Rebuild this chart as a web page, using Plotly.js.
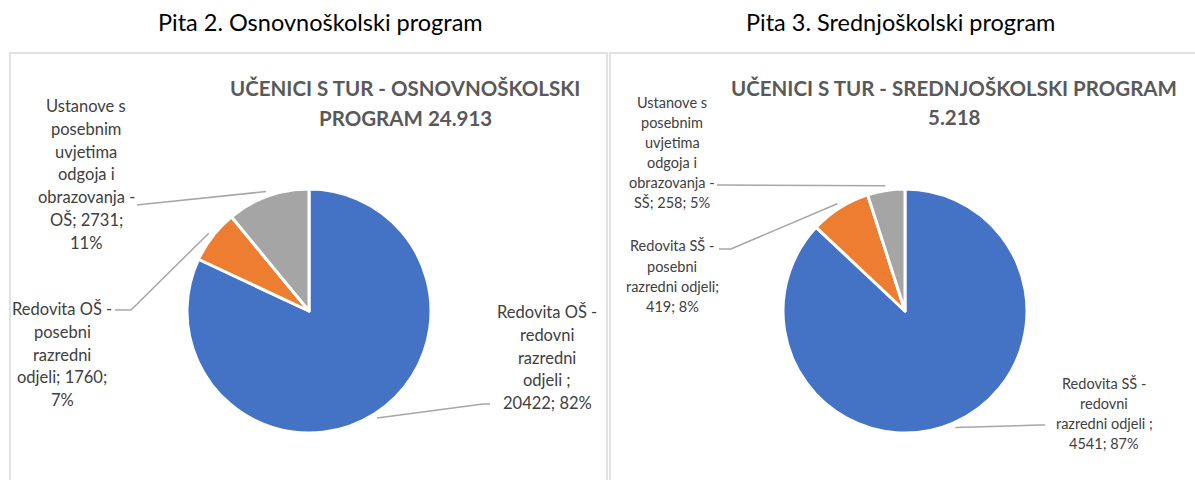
<!DOCTYPE html>
<html>
<head>
<meta charset="utf-8">
<script src="https://cdn.plot.ly/plotly-3.0.1.min.js"></script>
<style>html,body{margin:0;padding:0;background:#fff;}#chart{width:1195px;height:480px;}</style>
</head>
<body>
<div id="chart"></div>
<script>
// ---------- DATA ----------
const headers = ['Pita 2. Osnovnoškolski program', 'Pita 3. Srednjoškolski program'];
const titlePrefixOS = 'UČENICI S TUR - OSNOVNOŠKOLSKI';
const titleWordOS = 'PROGRAM';
const titlePrefixSS = 'UČENICI S TUR - SREDNJOŠKOLSKI PROGRAM';

const categoriesOS = [
  'Redovita OŠ - redovni razredni odjeli ',
  'Redovita OŠ - posebni razredni odjeli',
  'Ustanove s posebnim uvjetima odgoja i obrazovanja - OŠ'
];
const valuesOS = [20422, 1760, 2731];

const categoriesSS = [
  'Redovita SŠ - redovni razredni odjeli ',
  'Redovita SŠ - posebni razredni odjeli',
  'Ustanove s posebnim uvjetima odgoja i obrazovanja - SŠ'
];
const valuesSS = [4541, 419, 258];

const colors = ['#4472C4', '#ED7D31', '#A5A5A5'];

// wrapped label lines ({v} = value, {p} = percent)
const labelLinesOS = [
  ['Redovita OŠ -', 'redovni', 'razredni', 'odjeli ;', '{v}; {p}'],
  ['Redovita OŠ -', 'posebni', 'razredni', 'odjeli; {v};', '{p}'],
  ['Ustanove s', 'posebnim', 'uvjetima', 'odgoja i', 'obrazovanja -', 'OŠ; {v};', '{p}']
];
const labelLinesSS = [
  ['Redovita SŠ -', 'redovni', 'razredni odjeli ;', '{v}; {p}'],
  ['Redovita SŠ -', 'posebni', 'razredni odjeli;', '{v}; {p}'],
  ['Ustanove s', 'posebnim', 'uvjetima', 'odgoja i', 'obrazovanja -', 'SŠ; {v}; {p}']
];

// ---------- LAYOUT CONSTANTS ----------
const W = 1195, H = 480;
const FONT = 'Lato, Calibri, "Liberation Sans", sans-serif';
const px = x => x / W;
const py = y => 1 - y / H;

const charts = [
  {
    cats: categoriesOS, vals: valuesOS, lines: labelLinesOS,
    cx: 309, cy: 311, r: 122,
    titleX: 405, titleY: [88, 118],
    labelFont: 16.5, labelDy: 22.8,
    labels: [ {x: 547, y0: 312}, {x: 62, y0: 309}, {x: 86, y0: 106} ],
    leaders: [ [[490, 404], [483, 404]], [[115, 310], [131, 310]], [[137, 205], [146, 204]] ],
    header: {x: 320, y: 22},
    box: [10, 607]
  },
  {
    cats: categoriesSS, vals: valuesSS, lines: labelLinesSS,
    cx: 905, cy: 311, r: 122,
    titleX: 954, titleY: [88, 117],
    labelFont: 14.5, labelDy: 20.2,
    labels: [ {x: 1104, y0: 383}, {x: 672, y0: 246}, {x: 672, y0: 102} ],
    leaders: [ [[1045, 425], [1040, 425]], [[719, 249], [731, 249]], [[717, 185], [726, 185]] ],
    header: {x: 900, y: 22},
    box: [610, 1200]
  }
];

const fmtThousands = n => String(n).replace(/\B(?=(\d{3})+(?!\d))/g, '.');

const data = [];
const annotations = [];
const shapes = [];

charts.forEach((c, ci) => {
  const total = c.vals.reduce((a, b) => a + b, 0);
  const pcts = c.vals.map(v => Math.round(100 * v / total) + '%');

  // box
  shapes.push({type: 'rect', xref: 'paper', yref: 'paper',
    x0: px(c.box[0]), x1: px(c.box[1]), y0: -0.1, y1: py(53),
    line: {color: '#D9D9D9', width: 1.5}, fillcolor: 'rgba(0,0,0,0)', layer: 'below'});

  // pie
  data.push({
    type: 'pie', labels: c.cats, values: c.vals, sort: false,
    direction: 'clockwise', rotation: 0,
    marker: {colors: colors, line: {color: '#FFFFFF', width: 3}},
    textinfo: 'none', showlegend: false, hoverinfo: 'label+value+percent',
    domain: {x: [px(c.cx - c.r), px(c.cx + c.r)], y: [py(c.cy + c.r), py(c.cy - c.r)]}
  });

  // header
  annotations.push({xref: 'paper', yref: 'paper', x: px(c.header.x), y: py(c.header.y),
    xanchor: 'center', yanchor: 'middle', showarrow: false, text: headers[ci],
    font: {family: FONT, size: 23.5, color: '#000000'}});

  // title
  const t = ci === 0
    ? [titlePrefixOS, titleWordOS + ' ' + fmtThousands(total)]
    : [titlePrefixSS, fmtThousands(total)];
  t.forEach((line, li) => {
    annotations.push({xref: 'paper', yref: 'paper', x: px(c.titleX), y: py(c.titleY[li]),
      xanchor: 'center', yanchor: 'middle', showarrow: false, text: '<b>' + line + '</b>',
      font: {family: FONT, size: 20.5, color: '#595959'}});
  });

  // labels & leaders
  let cum = 0;
  c.vals.forEach((v, i) => {
    const mid = 2 * Math.PI * (cum + v / 2) / total;
    cum += v;
    const R = c.r * 1.04;
    const ax = c.cx + R * Math.sin(mid);
    const ay = c.cy - R * Math.cos(mid);
    const pts = c.leaders[i].concat([[ax, ay]]);
    const path = pts.map((p, k) => (k ? 'L' : 'M') + px(p[0]) + ',' + py(p[1])).join(' ');
    shapes.push({type: 'path', xref: 'paper', yref: 'paper', path: path,
      line: {color: '#A6A6A6', width: 1.5}});

    const lab = c.labels[i];
    c.lines[i].forEach((ln, li) => {
      const txt = ln.replace('{v}', String(v)).replace('{p}', pcts[i]);
      annotations.push({xref: 'paper', yref: 'paper', x: px(lab.x), y: py(lab.y0 + li * c.labelDy),
        xanchor: 'center', yanchor: 'middle', showarrow: false, text: txt,
        font: {family: FONT, size: c.labelFont, color: '#404040'}});
    });
  });
});

const layout = {
  width: W, height: H,
  margin: {l: 0, r: 0, t: 0, b: 0},
  paper_bgcolor: '#FFFFFF', plot_bgcolor: '#FFFFFF',
  showlegend: false,
  annotations: annotations,
  shapes: shapes
};

Plotly.newPlot('chart', data, layout, {displayModeBar: false, staticPlot: true});
</script>
</body>
</html>
